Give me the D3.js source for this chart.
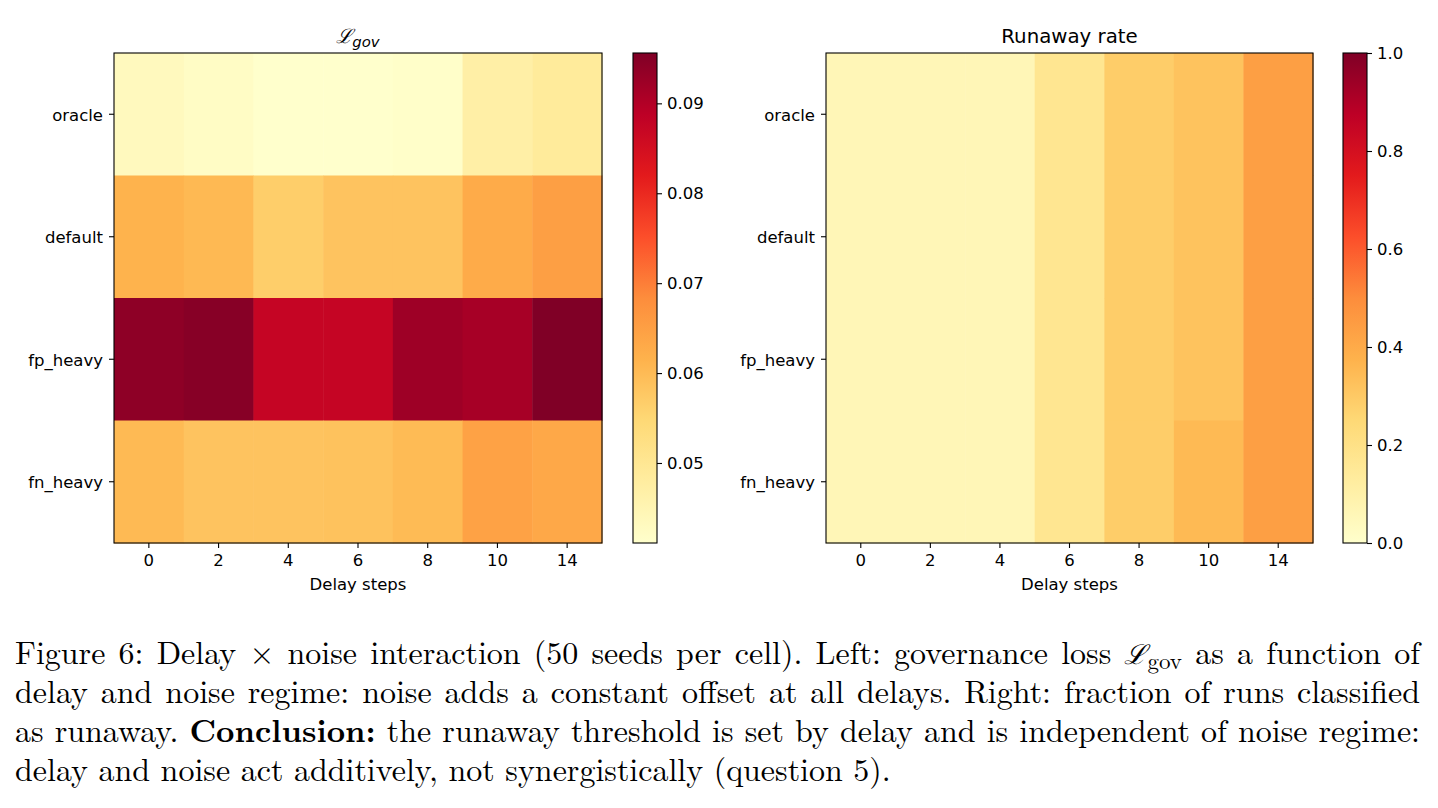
<!DOCTYPE html>
<html><head><meta charset="utf-8">
<script src="https://cdn.jsdelivr.net/npm/d3@7"></script>
<style>
body{margin:0;background:#fff;}
svg text{font-family:"DejaVu Sans",sans-serif;}
.cap{font-family:"Latin Modern Roman","CMU Serif","Liberation Serif","DejaVu Serif",serif;}
</style></head>
<body><svg id="c" width="1438" height="808"></svg>
<script>
const delays = ["0","2","4","6","8","10","14"];
const regimes = ["oracle","default","fp_heavy","fn_heavy"];
const lossOracle  = [0.0433,0.0422,0.0411,0.0411,0.0415,0.0470,0.0487];
const lossDefault = [0.0613,0.0604,0.0566,0.0585,0.0585,0.0629,0.0651];
const lossFp      = [0.0940,0.0948,0.0874,0.0874,0.0923,0.0912,0.0956];
const lossFn      = [0.0602,0.0585,0.0585,0.0587,0.0600,0.0645,0.0634];
const runOracle  = [0.06,0.06,0.06,0.17,0.29,0.32,0.44];
const runDefault = [0.06,0.06,0.06,0.17,0.29,0.32,0.44];
const runFp      = [0.06,0.06,0.06,0.17,0.29,0.32,0.44];
const runFn      = [0.06,0.06,0.06,0.17,0.29,0.35,0.44];
const lossTicks = [0.05,0.06,0.07,0.08,0.09];
const runTicks = [0,0.2,0.4,0.6,0.8,1.0];

const lossData = [lossOracle,lossDefault,lossFp,lossFn];
const runData = [runOracle,runDefault,runFp,runFn];

const ylorrd = ["#ffffcc","#ffeda0","#fed976","#feb24c","#fd8d3c","#fc4e2a","#e31a1c","#bd0026","#800026"];
function cmap(lo,hi){
  const n=ylorrd.length;
  return d3.scaleLinear().domain(d3.range(n).map(i=>lo+(hi-lo)*i/(n-1))).range(ylorrd).interpolate(d3.interpolateRgb).clamp(true);
}
const svg = d3.select("#c");
const TF=16.5, TT=19.8;

function panel(opts){
  const {x0,x1,y0,y1,data,lo,hi,ticks,fmt,cbx,title,mathTitle} = opts;
  const g = svg.append("g");
  const xs = d3.scaleBand().domain(delays).range([x0,x1]).padding(0);
  const ys = d3.scaleBand().domain(regimes).range([y0,y1]).padding(0);
  const col = cmap(lo,hi);
  const cells=[];
  data.forEach((row,i)=>row.forEach((v,j)=>cells.push({r:regimes[i],c:delays[j],v})));
  g.selectAll("rect.cell").data(cells).enter().append("rect")
    .attr("x",d=>xs(d.c)).attr("y",d=>ys(d.r))
    .attr("width",xs.bandwidth()+0.5).attr("height",ys.bandwidth()+0.5)
    .attr("fill",d=>col(d.v));
  g.append("rect").attr("x",x0).attr("y",y0).attr("width",x1-x0).attr("height",y1-y0)
    .attr("fill","none").attr("stroke","#000").attr("stroke-width",1.1);
  const xa = g.append("g").attr("transform",`translate(0,${y1})`)
    .call(d3.axisBottom(xs).tickSize(5).tickSizeOuter(0).tickPadding(6));
  const ya = g.append("g").attr("transform",`translate(${x0},0)`)
    .call(d3.axisLeft(ys).tickSize(5).tickSizeOuter(0).tickPadding(6));
  [xa,ya].forEach(a=>{a.select(".domain").remove();a.selectAll("text").attr("font-size",TF).attr("fill","#000").style("font-family","DejaVu Sans");a.selectAll("line").attr("stroke","#000").attr("stroke-width",1.1);});
  ya.selectAll("text").attr("dy","0.4em");
  g.append("text").attr("x",(x0+x1)/2).attr("y",y1+47).attr("text-anchor","middle").attr("font-size",TF).text("Delay steps");
  if(mathTitle){
    const t=g.append("text").attr("x",(x0+x1)/2).attr("y",y0-10).attr("text-anchor","middle").attr("font-size",TT);
    t.append("tspan").style("font-family","DejaVu Serif").style("font-style","italic").text("ℒ");
    t.append("tspan").attr("dy",4).attr("font-size",TT*0.75).style("font-style","italic").text("gov");
  } else {
    g.append("text").attr("x",(x0+x1)/2).attr("y",y0-10).attr("text-anchor","middle").attr("font-size",TT).text(title);
  }
  const cw=24;
  const cy = d3.scaleLinear().domain([lo,hi]).range([y1,y0]);
  const gid="grad"+Math.round(cbx);
  const grad=svg.append("defs").append("linearGradient").attr("id",gid).attr("x1",0).attr("y1",1).attr("x2",0).attr("y2",0);
  ylorrd.forEach((c,i)=>grad.append("stop").attr("offset",i/(ylorrd.length-1)).attr("stop-color",c));
  g.append("rect").attr("x",cbx).attr("y",y0).attr("width",cw).attr("height",y1-y0).attr("fill",`url(#${gid})`).attr("stroke","#000").attr("stroke-width",1.1);
  const ca=g.append("g").attr("transform",`translate(${cbx+cw},0)`)
    .call(d3.axisRight(cy).tickValues(ticks).tickFormat(fmt).tickSize(5).tickPadding(5));
  ca.select(".domain").remove();
  ca.selectAll("text").attr("font-size",TF).attr("fill","#000").style("font-family","DejaVu Sans");
  ca.selectAll("line").attr("stroke","#000").attr("stroke-width",1.1);
}
panel({x0:114,x1:602,y0:53,y1:543,data:lossData,lo:0.0411,hi:0.0956,ticks:lossTicks,fmt:d3.format(".2f"),cbx:633,mathTitle:true});
panel({x0:826,x1:1313,y0:53,y1:543,data:runData,lo:0,hi:1,ticks:runTicks,fmt:d3.format(".1f"),cbx:1343,title:"Runaway rate"});

// caption
const capLines = [
 [["Figure 6: Delay × noise interaction (50 seeds per cell). Left: governance loss",""],["ℒ","L"],["as a function of",""]],
 [["delay and noise regime: noise adds a constant offset at all delays. Right: fraction of runs classified",""]],
 [["as runaway.",""],["Conclusion:","b"],["the runaway threshold is set by delay and is independent of noise regime:",""]],
 [["delay and noise act additively, not synergistically (question 5).",""]]
];
const capX0=15, capX1=1420, fs=32;
const baselines=[664,703,742,781];
capLines.forEach((segs,li)=>{
  const words=[];
  segs.forEach(([txt,kind])=>{
    if(kind==="L"){ words.push({parts:[{t:"ℒ",k:"L"}]}); return; }
    txt.trim().split(/\s+/).forEach(w=>words.push({parts:[{t:w,k:kind}]}));
  });
  const g=svg.append("g");
  const items=words.map(w=>{
    const t=g.append("text").attr("class","cap").attr("y",baselines[li]).attr("font-size",fs);
    w.parts.forEach(p=>{
      if(p.k==="L"){
        t.append("tspan").style("font-family","DejaVu Serif").style("font-style","italic").attr("font-size",fs*0.85).text("ℒ");
        t.append("tspan").attr("dy",5).attr("font-size",fs*0.72).text("gov");
      } else {
        const s=t.append("tspan").text(p.t);
        if(p.k==="b") s.attr("font-weight","bold");
      }
    });
    return {t,w:t.node().getComputedTextLength()};
  });
  const total=d3.sum(items,d=>d.w);
  const last = li===capLines.length-1;
  const gap = last ? fs*0.33 : (capX1-capX0-total)/(items.length-1);
  let x=capX0;
  items.forEach(it=>{it.t.attr("x",x); x+=it.w+gap;});
});
</script></body></html>
